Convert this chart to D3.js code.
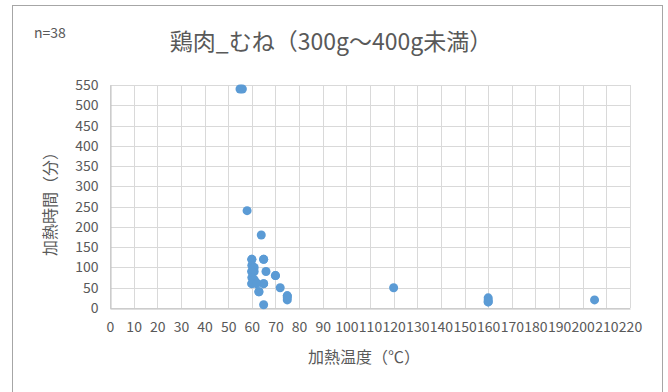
<!DOCTYPE html>
<html>
<head>
<meta charset="utf-8">
<script src="https://cdn.jsdelivr.net/npm/d3@7/dist/d3.min.js"></script>
<style>
  html, body { margin: 0; padding: 0; background: #fff; }
  svg { display: block; }
  text { font-family: "Noto Sans CJK JP", "Noto Sans", sans-serif; fill: #595959; }
</style>
</head>
<body>
<svg id="chart" width="668" height="392"></svg>
<script>
// Heating temperature (°C) and heating time (min), chicken breast 300–400 g
const temperature = [55, 56, 58, 64, 60, 60, 65, 65, 60, 61, 61, 60, 60, 66, 60, 70, 70, 61, 62, 60, 60, 65, 65, 62, 63, 63, 72, 75, 75, 75, 75, 65, 120, 160, 160, 160, 160, 205];
const minutes     = [540, 540, 240, 180, 120, 120, 120, 120, 105, 100, 90, 90, 90, 90, 75, 80, 80, 70, 62, 60, 60, 60, 60, 60, 40, 40, 50, 30, 30, 20, 25, 8, 50, 25, 20, 15, 15, 20];

const xTicks = d3.range(0, 221, 10);
const yTicks = d3.range(0, 551, 50);

const titleText = "鶏肉_むね（300g～400g未満）";
const countText = "n=38";
const xTitle = "加熱温度（℃）";
const yTitle = "加熱時間（分）";

const svg = d3.select("#chart");

// chart frame
svg.append("rect")
  .attr("x", 12.5).attr("y", 5.5)
  .attr("width", 650).attr("height", 400)
  .attr("fill", "#fff").attr("stroke", "#a6a6a6").attr("stroke-width", 1);

const plot = { left: 110, right: 630, top: 85, bottom: 308 };

const x = d3.scaleLinear().domain([0, 220]).range([plot.left, plot.right]);
const y = d3.scaleLinear().domain([0, 550]).range([plot.bottom, plot.top]);

// gridlines
const grid = svg.append("g");
grid.selectAll("line.v").data(xTicks).join("line")
  .attr("x1", d => Math.round(x(d)) + 0.5).attr("x2", d => Math.round(x(d)) + 0.5)
  .attr("y1", plot.top).attr("y2", plot.bottom)
  .attr("stroke", "#d9d9d9").attr("stroke-width", 1);
grid.selectAll("line.h").data(yTicks).join("line")
  .attr("x1", plot.left).attr("x2", plot.right)
  .attr("y1", d => Math.round(y(d)) + 0.5).attr("y2", d => Math.round(y(d)) + 0.5)
  .attr("stroke", "#d9d9d9").attr("stroke-width", 1);

// axes
const xAxis = d3.axisBottom(x).tickValues(xTicks).tickSize(0).tickPadding(14);
const gx = svg.append("g").attr("transform", `translate(0,${Math.round(y(0)) + 0.5})`).call(xAxis);
gx.select(".domain").attr("stroke", "#bfbfbf");
gx.selectAll("text").attr("font-size", 14).attr("fill", "#595959")
  .style("font-family", "'Noto Sans CJK JP', sans-serif");

const yAxis = d3.axisLeft(y).tickValues(yTicks).tickSize(0).tickPadding(12);
const gy = svg.append("g").attr("transform", `translate(${Math.round(x(0)) + 0.5},0)`).call(yAxis);
gy.select(".domain").attr("stroke", "#bfbfbf");
gy.selectAll("text").attr("font-size", 14).attr("fill", "#595959")
  .style("font-family", "'Noto Sans CJK JP', sans-serif");

// points
svg.append("g").selectAll("circle")
  .data(temperature.map((t, i) => [t, minutes[i]]))
  .join("circle")
  .attr("cx", d => x(d[0])).attr("cy", d => y(d[1]))
  .attr("r", 4.5).attr("fill", "#5b9bd5");

// titles
svg.append("text").attr("x", 331).attr("y", 50).attr("text-anchor", "middle")
  .attr("font-size", 23).text(titleText);
svg.append("text").attr("x", 34).attr("y", 38).attr("font-size", 14).text(countText);
svg.append("text").attr("x", 364).attr("y", 363)
  .attr("text-anchor", "middle").attr("font-size", 16).text(xTitle);
svg.append("text")
  .attr("transform", `translate(56,200) rotate(-90)`)
  .attr("text-anchor", "middle").attr("font-size", 16).text(yTitle);
</script>
</body>
</html>
